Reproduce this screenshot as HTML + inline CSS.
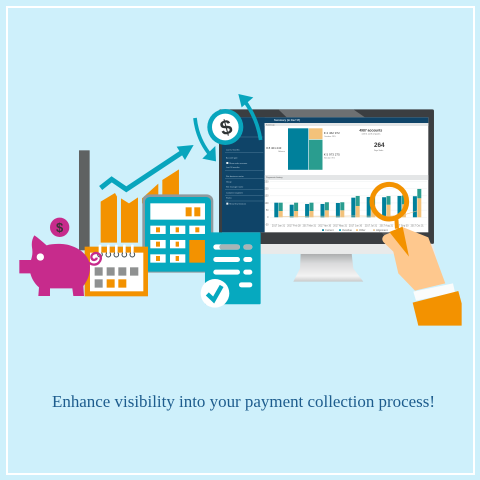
<!DOCTYPE html>
<html lang="en">
<head>
<meta charset="utf-8">
<title>Enhance visibility into your payment collection process</title>
<style>
html,body{margin:0;padding:0;width:480px;height:480px;overflow:hidden;background:#cef0fb}
svg{display:block;filter:blur(.3px)}
text{font-family:"Liberation Sans",sans-serif}
</style>
</head>
<body>
<svg id="art" width="480" height="480" viewBox="0 0 480 480" xmlns="http://www.w3.org/2000/svg">
  <defs>
    <linearGradient id="standGrad" x1="0" y1="0" x2="0" y2="1">
      <stop offset="0" stop-color="#a9abac"/><stop offset=".35" stop-color="#d9dadb"/><stop offset=".8" stop-color="#f3f3f3"/><stop offset="1" stop-color="#c9caca"/>
    </linearGradient>
  </defs>
  <rect width="480" height="480" fill="#cef0fb"/>
  <rect x="7" y="7" width="467" height="467" fill="none" stroke="#ffffff" stroke-width="2"/>

  <!-- Monitor, drawn in the 3x crop coordinates -->
  <g transform="translate(250,100) scale(.3333)">
    <polygon points="152,460 305,460 310,505 340,545 130,545 150,505" fill="url(#standGrad)"/>
    <rect x="-90" y="425" width="630" height="37" fill="#e9eaea"/>
    <rect x="-93" y="28" width="645" height="404" rx="5" fill="#3b3e41"/>
    <polygon points="85,28 310,28 345,52 110,52" fill="#6d7072"/>
    <polygon points="395,397 470,397 500,432 420,432" fill="#56595b"/>
    <rect x="-84" y="52" width="619" height="345" fill="#ffffff"/>
    <rect x="-84" y="52" width="619" height="17" fill="#0f4468"/>
    <rect x="-84" y="52" width="128" height="345" fill="#0f4468"/>
    <text x="72" y="63" font-size="8" font-weight="bold" fill="#cfe0ea">Summary (in Dec'17)</text>
    <rect x="44" y="69" width="491" height="9" fill="#e4e6e7"/>
    <text x="48" y="76" font-size="6" fill="#555">Summary</text>
    <rect x="44" y="225" width="491" height="15" fill="#e4e6e7"/>
    <text x="48" y="234" font-size="6.5" fill="#555">Payments history</text>
    <text x="49" y="147" font-size="8.5" fill="#333">€ 8 401 243</text>
    <text x="85" y="156" font-size="5.5" fill="#777">Balance</text>
    <text x="222" y="102" font-size="9" fill="#333">€ 2 462 972</text>
    <text x="222" y="111" font-size="5.5" fill="#777">Overdue: 29%</text>
    <text x="222" y="166" font-size="9" fill="#333">€ 5 973 275</text>
    <text x="222" y="175" font-size="5.5" fill="#777">Not due: 71%</text>
    <text x="328" y="94" font-size="10" font-weight="bold" fill="#333">4987 accounts</text>
    <text x="335" y="104" font-size="5.5" fill="#666">with €1 worth of quotes</text>
    <text x="372" y="141" font-size="19" font-weight="bold" fill="#333">264</text>
    <text x="372" y="153" font-size="5.5" fill="#666">Days Sales</text>
  </g>

  <!-- Dashboard charts are generated here -->
  <g id="dash"></g>

  <!-- Sidebar details, rising arrows, bars and documents: 3x crop coordinates -->
  <g transform="translate(10,90) scale(.3333)">
    <g fill="#b6cddb" font-size="6">
      <text x="648" y="122">Filters</text>
      <text x="648" y="182">Last 12 months</text>
      <text x="648" y="206">Account type</text>
      <text x="658" y="222">Show sales revenue</text>
      <text x="648" y="234">Last 90 months</text>
      <text x="648" y="261">Site business sector</text>
      <text x="648" y="277">Group</text>
      <text x="648" y="293">Site manager name</text>
      <text x="648" y="311">Customer segment</text>
      <text x="648" y="326">Status</text>
      <text x="658" y="344">Show final invoices</text>
      <g fill="#3d6c8b">
        <rect x="645" y="140" width="115" height="2"/><rect x="645" y="186" width="115" height="2"/>
        <rect x="645" y="240" width="115" height="2"/><rect x="645" y="265" width="115" height="2"/>
        <rect x="645" y="298" width="115" height="2"/><rect x="645" y="316" width="115" height="2"/>
        <rect x="645" y="332" width="115" height="2"/>
      </g>
      <rect x="649" y="216" width="6" height="6" fill="#e8f0f4"/><rect x="649" y="338" width="6" height="6" fill="#e8f0f4"/>
    </g>

    <rect x="207" y="181" width="32" height="300" fill="#5f6262"/>

    <g fill="#f39200">
      <polygon points="272,335 315,309 321,320 321,458 272,458"/>
      <polygon points="333,325 357,340 384,322 384,458 333,458"/>
      <polygon points="396,325 445,281 445,340 396,340"/>
      <polygon points="457,270 507,238 507,330 457,330"/>
    </g>
    <polyline points="272,294 305,268 349,298 527,180" fill="none" stroke="#08a5bd" stroke-width="15"/>
    <polygon points="551,165 500,170 525,210" fill="#08a5bd"/>

    <g>
      <path d="M555,84 Q562,150 605,200" fill="none" stroke="#08a5bd" stroke-width="11"/>
      <polygon points="618,214 577,206 616,168" fill="#08a5bd"/>
      <path d="M752,150 Q742,85 702,30" fill="none" stroke="#08a5bd" stroke-width="11"/>
      <polygon points="685,12 730,22 695,52" fill="#08a5bd"/>
      <circle cx="646" cy="111" r="54" fill="#08a5bd"/>
      <circle cx="646" cy="111" r="40" fill="#ffffff"/>
      <text x="648" y="133" font-size="62" font-weight="bold" text-anchor="middle" fill="#2f3435" transform="rotate(-15 648 111)">$</text>
    </g>

    <g>
      <rect x="397" y="313" width="213" height="235" rx="20" fill="#8f9a9e"/>
      <rect x="405" y="321" width="198" height="224" rx="14" fill="#06a9bf"/>
      <rect x="421" y="340" width="164" height="49" fill="#ffffff"/>
      <rect x="527" y="352" width="18" height="27" fill="#f39200"/>
      <rect x="553" y="352" width="18" height="27" fill="#f39200"/>
      <g fill="#ffffff">
        <rect x="421" y="407" width="46" height="25"/><rect x="480" y="407" width="46" height="25"/><rect x="538" y="407" width="47" height="25"/>
        <rect x="421" y="450" width="46" height="25"/><rect x="480" y="450" width="46" height="25"/>
        <rect x="421" y="493" width="46" height="25"/><rect x="480" y="493" width="46" height="25"/>
      </g>
      <g fill="#f39200">
        <rect x="438" y="412" width="12" height="15"/><rect x="497" y="412" width="10" height="15"/><rect x="556" y="412" width="12" height="15"/>
        <rect x="438" y="455" width="12" height="15"/><rect x="497" y="455" width="10" height="15"/>
        <rect x="438" y="498" width="12" height="15"/><rect x="497" y="498" width="10" height="15"/>
        <rect x="538" y="450" width="47" height="68"/>
      </g>
    </g>

    <g>
      <rect x="585" y="427" width="167" height="216" rx="4" fill="#06a9bf"/>
      <g fill="#ffffff">
        <rect x="610" y="463" width="80" height="16" rx="8"/><rect x="700" y="463" width="27" height="16" rx="8"/>
        <rect x="610" y="501" width="80" height="15" rx="7.5"/><rect x="700" y="501" width="27" height="15" rx="7.5"/>
        <rect x="610" y="539" width="80" height="15" rx="7.5"/><rect x="700" y="539" width="27" height="15" rx="7.5"/>
        <rect x="687" y="577" width="40" height="15" rx="7.5"/>
      </g>
      <rect x="628" y="463" width="62" height="16" rx="8" fill="#a9b4b6"/>
      <rect x="700" y="463" width="27" height="16" rx="8" fill="#a9b4b6"/>
      <circle cx="615" cy="610" r="43" fill="#ffffff"/>
      <polyline points="592,612 611,630 635,588" fill="none" stroke="#06a9bf" stroke-width="13"/>
    </g>

    <g>
      <rect x="224" y="470" width="190" height="149" fill="#f39200"/>
      <rect x="240" y="488" width="160" height="116" fill="#ffffff"/>
      <g fill="#8f9191">
        <rect x="254" y="532" width="24" height="25"/><rect x="290" y="532" width="24" height="25"/>
        <rect x="325" y="532" width="24" height="25"/><rect x="360" y="532" width="25" height="25"/>
        <rect x="254" y="568" width="24" height="25"/>
      </g>
      <rect x="290" y="568" width="24" height="25" fill="#f39200"/>
      <rect x="325" y="568" width="24" height="25" fill="#f39200"/>
      <g fill="none" stroke="#3f4a50" stroke-width="3">
        <circle cx="270" cy="494" r="7"/><circle cx="295" cy="494" r="7"/><circle cx="319" cy="494" r="7"/><circle cx="343" cy="494" r="7"/><circle cx="367" cy="494" r="7"/>
      </g>
      <g fill="#ffffff">
        <rect x="266" y="464" width="8" height="32" rx="3"/><rect x="291" y="464" width="8" height="32" rx="3"/>
        <rect x="315" y="464" width="8" height="32" rx="3"/><rect x="339" y="464" width="8" height="32" rx="3"/><rect x="363" y="464" width="8" height="32" rx="3"/>
      </g>
    </g>
  </g>

  <!-- Piggy bank, drawn in its own 3x crop coordinates -->
  <g transform="translate(15,210) scale(.3333)" fill="#c72b8c">
    <circle cx="134" cy="52" r="29"/>
    <text x="134" y="66" font-size="39" font-weight="bold" text-anchor="middle" fill="#3a3436">$</text>
    <path d="M13,150 L48,150 C53,135 53,125 51,112 C49,97 52,86 58,76 C68,82 82,95 95,106 C115,100 150,100 170,108 C205,120 225,145 225,172 C225,198 214,216 205,228 L207,258 L175,258 L172,235 L105,235 L105,258 L70,258 L72,232 C58,220 50,205 46,190 L13,190 Z"/>
    <circle cx="76" cy="141" r="11" fill="#ffffff"/>
    <path d="M222,158 C245,175 265,150 255,135 C245,122 225,132 230,145 C234,153 245,150 245,143" fill="none" stroke="#c72b8c" stroke-width="7"/>
  </g>

  <!-- Hand and magnifier: 3x crop coordinates -->
  <g transform="translate(290,170) scale(.3333)">
    <polygon points="415,220 430,222 440,270 420,270" fill="#e9eaea"/>
    <path d="M288,193 L340,172 L415,202 L466,340 L375,362 L325,310 L310,245 L282,218 C272,208 278,197 288,193Z" fill="#fec88e"/>
    <circle cx="298" cy="95" r="52" fill="none" stroke="#f39200" stroke-width="15"/>
    <rect x="314" y="148" width="12" height="28" fill="#f39200" transform="rotate(-3 320 160)"/>
    <polygon points="298,186 338,170 357,260" fill="#f39200"/>
    <polygon points="370,365 489,340 495,367 378,392" fill="#fafcfc"/>
    <polygon points="368,398 505,363 515,400 515,467 385,467" fill="#f39200"/>
  </g>

  <text x="243.500" y="407" style="font-family:'Liberation Serif',serif" font-size="17" fill="#1d5c8d" text-anchor="middle" textLength="383" lengthAdjust="spacingAndGlyphs">Enhance visibility into your payment collection process!</text>
</svg>

<script>
// Dashboard chart data
const categories = ["2017 Jan 31","2017 Feb 28","2017 Mar 31","2017 Apr 30","2017 May 31","2017 Jun 30","2017 Jul 31","2017 Aug 31","2017 Sep 30","2017 Oct 31"];
const currentValues = [102,88,93,93,100,137,142,140,149,147];
const overdueValues = [58,58,58,56,56,70,60,60,62,65];
const otherValues = [44,44,44,49,49,79,85,88,91,133];
const alignmentValues = [5,5,8,8,8,10,8,8,12,45];
const yTickValues = [-50,0,50,100,150,200,250];
const legendLabels = ["Current","Overdue","Other","Alignment"];
const treemapShares = [59,11,30];

const NS = "http://www.w3.org/2000/svg";
const dash = document.getElementById("dash");
const seriesColors = ["#00809b","#2a9d8f","#f3c27a","#e8c79a"];

// Axis functions
function xBand(i){ return 274.3 + i * 15.4; }
function yScale(v){ return 217.3 - v * 0.1433; }

function make(tag, attrs){
  const el = document.createElementNS(NS, tag);
  for (const k in attrs) el.setAttribute(k, attrs[k]);
  dash.appendChild(el);
  return el;
}

// Treemap
const tmTotal = treemapShares[0] + treemapShares[1] + treemapShares[2];
const tmX = 288, tmY = 128.3, tmW = 34.5, tmH = 41.5;
const tmLeftW = tmW * treemapShares[0] / tmTotal;
const tmTopH = tmH * treemapShares[1] / (treemapShares[1] + treemapShares[2]);
const tmA = make("rect", {x: tmX, y: tmY, width: tmLeftW, height: tmH, fill: "#00809b"});


const tmB = make("rect", {x: tmX + tmLeftW + .6, y: tmY, width: tmW - tmLeftW - .6, height: tmTopH - .3, fill: "#f3c27a"});


const tmC = make("rect", {x: tmX + tmLeftW + .6, y: tmY + tmTopH + .3, width: tmW - tmLeftW - .6, height: tmH - tmTopH - .3, fill: "#2a9d8f"});



// Y axis
yTickValues.forEach(function(v){
  const g = make("line", {x1: 270, x2: 427, y1: yScale(v), y2: yScale(v), stroke: "#eef0f0", "stroke-width": .5});
  
  
  const t = make("text", {x: 268.500, y: yScale(v) + .8, "font-size": 2.4, fill: "#777", "text-anchor": "end"});
  
  
  t.textContent = v;
});

// Bars
categories.forEach(function(c, i){
  const x = xBand(i);
  const b1 = make("rect", {x: x, y: yScale(currentValues[i]), width: 4, height: yScale(0) - yScale(currentValues[i]), fill: seriesColors[0]});
  
  
  const b2 = make("rect", {x: x + 4.4, y: yScale(otherValues[i]), width: 4, height: yScale(0) - yScale(otherValues[i]), fill: seriesColors[2]});
  
  
  const b3 = make("rect", {x: x + 4.4, y: yScale(otherValues[i] + overdueValues[i]), width: 4, height: yScale(otherValues[i]) - yScale(otherValues[i] + overdueValues[i]), fill: seriesColors[1]});
  
  
  const t = make("text", {x: x + 4.2, y: 226.500, "font-size": 2.4, fill: "#777", "text-anchor": "middle"});
  
  
  t.textContent = c;
});

// Alignment line
const linePts = alignmentValues.map(function(v, i){ return (xBand(i) + 4.2) + "," + yScale(v); }).join(" ");
const line = make("polyline", {points: linePts, fill: "none", stroke: seriesColors[3], "stroke-width": .6});



// Legend
legendLabels.forEach(function(label, i){
  const lx = 322 + i * 17;
  const s = make("rect", {x: lx, y: 229.300, width: 2, height: 1.6, fill: [seriesColors[0], "#12a6bd", seriesColors[2], seriesColors[3]][i]});
  
  
  const t = make("text", {x: lx + 3, y: 231, "font-size": 2.6, fill: "#666"});
  
  
  t.textContent = label;
});
</script>
</body>
</html>
